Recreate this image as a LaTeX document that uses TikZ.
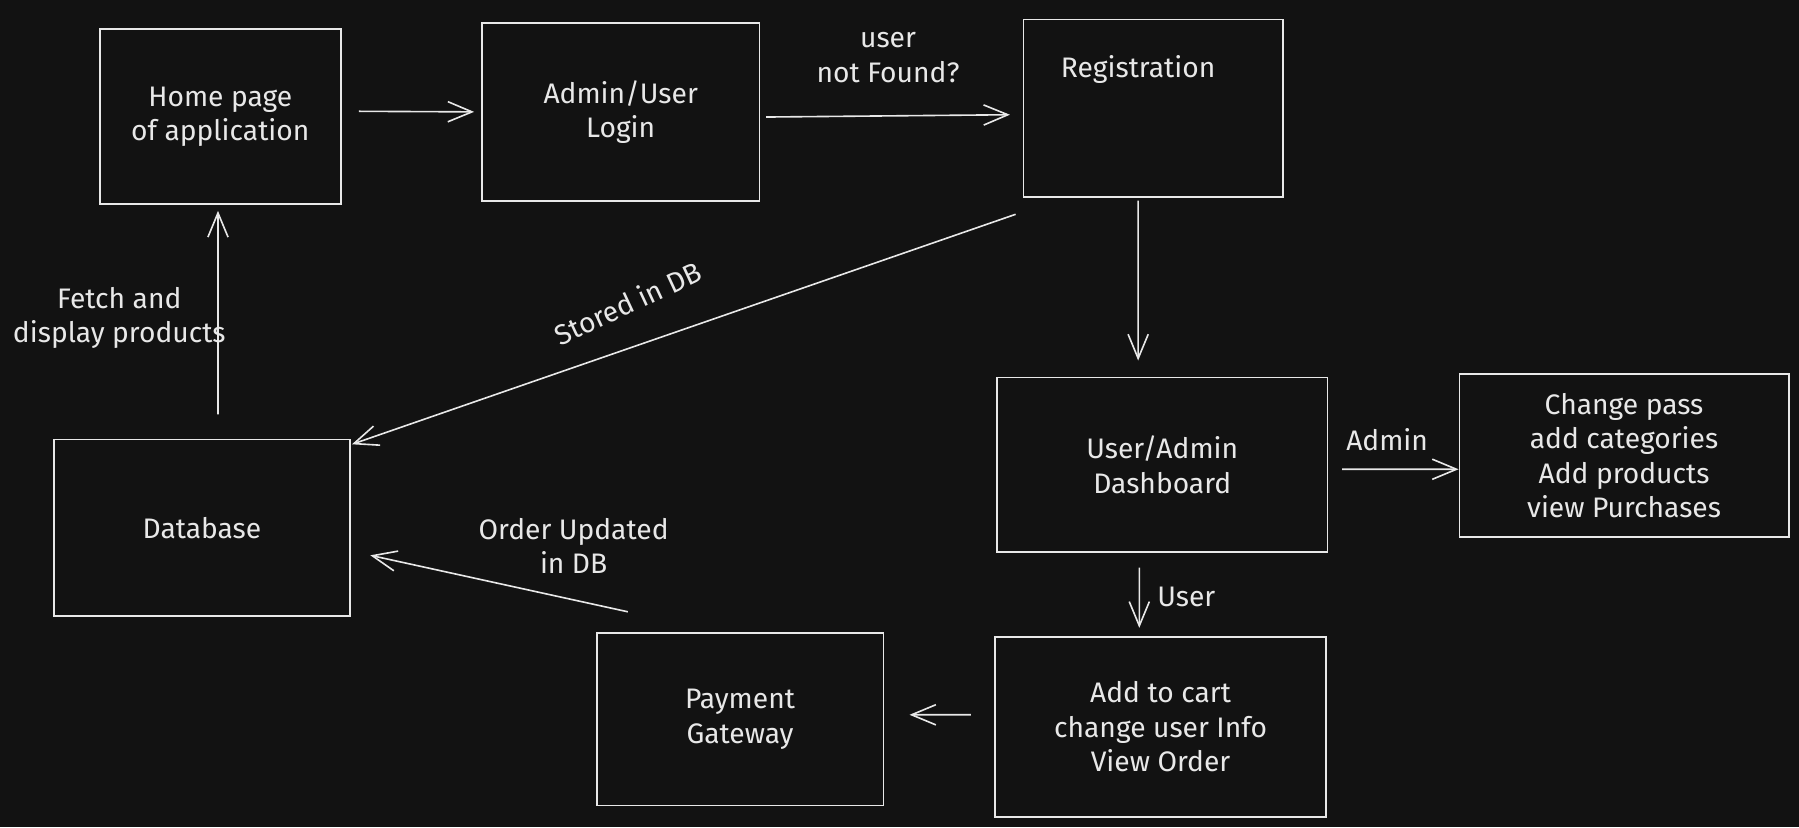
\documentclass[tikz,border=0pt]{standalone}
\usepackage{fontspec}
\setmainfont{Fira Sans}
\usepackage{tikz}
\usetikzlibrary{arrows.meta}
\definecolor{bgdark}{HTML}{121212}
\definecolor{chalk}{HTML}{E8E8E8}

\begin{document}
\begin{tikzpicture}[x = 0.02cm , y = -0.02cm ,
    box/.style = {draw = chalk , line width = 0.9pt , text = chalk , align = center , font = \fontsize{14}{17}\selectfont},
    note/.style = {text = chalk , align = center , font = \fontsize{14}{17}\selectfont},
    arr/.style = {draw = chalk , line width = 0.8pt , -{Straight Barb[length = 12pt , width = 10pt]}}]
    \fill[bgdark] (0,0) rectangle (1568,721); % background

    % boxes
    \node[box , minimum width = 4.2cm , minimum height = 3.06cm] (home) at (192,101.5) {Home page\\of application};
    \node[box , minimum width = 4.84cm , minimum height = 3.1cm] (login) at (541,97.5) {Admin/User\\Login};
    \node[box , minimum width = 4.52cm , minimum height = 3.1cm] (reg) at (1005,94.5) {};
    \node[note] (regtext) at (992,61) {Registration};
    \node[box , minimum width = 5.76cm , minimum height = 3.04cm] (dash) at (1013,405) {User/Admin\\Dashboard};
    \node[box , minimum width = 5.74cm , minimum height = 2.84cm] (adm) at (1415.5,397) {Change pass\\add categories\\Add products\\view Purchases};
    \node[box , minimum width = 5.78cm , minimum height = 3.14cm] (cart) at (1011.5,633.5) {Add to cart\\change user Info\\View Order};
    \node[box , minimum width = 5cm , minimum height = 3cm] (pay) at (645,627) {Payment\\Gateway};
    \node[box , minimum width = 5.16cm , minimum height = 3.08cm] (db) at (176,460) {Database};

    % arrows
    \draw[arr] ([xshift = 0.3cm , yshift = 0.09cm]home.east) -- ([xshift = -0.12cm]login.west);
    \draw[arr] ([xshift = 0.1cm , yshift = -0.09cm]login.east) -- ([xshift = -0.22cm , yshift = -0.11cm]reg.west)
        node[note , midway , above = 0.45cm] (nf) {user\\not Found?};
    \draw[arr] ([xshift = -0.26cm , yshift = -0.04cm]reg.south) -- ([xshift = -0.42cm , yshift = 0.28cm]dash.north);
    \draw[arr] ([xshift = -0.12cm , yshift = -0.28cm]reg.south west) -- ([xshift = 0.02cm , yshift = -0.1cm]db.north east);
    \node[note , rotate = 25] (st) at (547,264) {Stored in DB};
    \draw[arr] ([xshift = 0.28cm , yshift = 0.42cm]db.north) -- ([xshift = -0.04cm , yshift = -0.1cm]home.south);
    \node[note] (fd) at (104,277) {Fetch and\\display products};
    \draw[arr] ([xshift = 0.24cm , yshift = -0.08cm]dash.east) -- ([yshift = -0.24cm]adm.west);
    \node[note] (ad) at (1209,383) {Admin};
    \draw[arr] ([xshift = -0.4cm , yshift = -0.26cm]dash.south) -- ([xshift = -0.37cm , yshift = 0.14cm]cart.north);
    \node[note] (us) at (1034,520) {User};
    \draw[arr] ([xshift = -0.4cm , yshift = 0.21cm]cart.west) -- ([xshift = 0.44cm , yshift = 0.08cm]pay.east);
    \draw[arr] ([xshift = 0.56cm , yshift = 0.36cm]pay.north west) -- ([xshift = 0.34cm , yshift = -0.48cm]db.east);
    \node[note] (ou) at (500,476) {Order Updated\\in DB};
\end{tikzpicture}
\end{document}
